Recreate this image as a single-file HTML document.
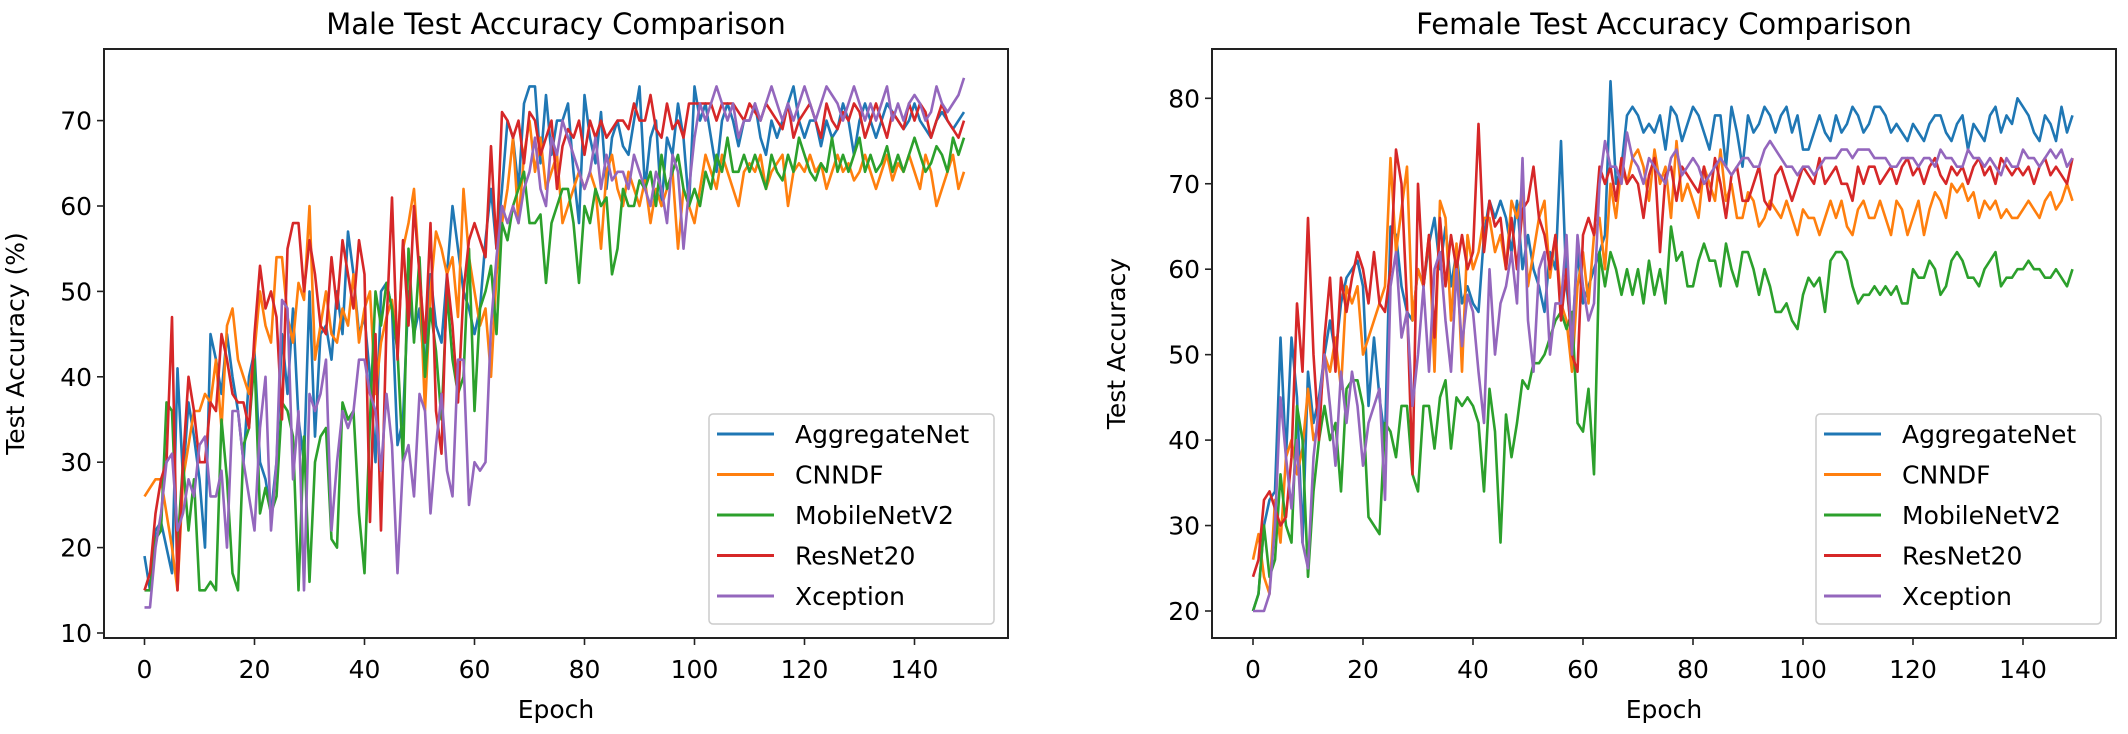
<!DOCTYPE html>
<html><head><meta charset="utf-8"><style>
html,body{margin:0;padding:0;background:#fff}
svg{display:block;font-family:"DejaVu Sans","Liberation Sans",sans-serif}
</style></head><body>
<svg id="fig" width="2128" height="734" viewBox="0 0 2128 734" xmlns="http://www.w3.org/2000/svg"></svg>
<script>
const epochs = 150;
const seriesNames = ["AggregateNet","CNNDF","MobileNetV2","ResNet20","Xception"];
const colors = ["#1f77b4","#ff7f0e","#2ca02c","#d62728","#9467bd"];
const maleXTicks = [0,20,40,60,80,100,120,140];
const maleYTicks = [10,20,30,40,50,60,70];
const femaleXTicks = [0,20,40,60,80,100,120,140];
const femaleYTicks = [20,30,40,50,60,70,80];

const maleAgg = [19,15,22,23,20,17,41,28,37,33, 28,20,45,42,38,45,40,36,30,40, 43,30,28,24,30,45,38,48,35,30, 50,33,45,46,42,50,45,57,52,45, 47,40,30,50,51,48,32,35,50,45, 48,40,52,46,44,52,60,55,50,48, 45,48,56,62,55,62,70,68,62,72, 74,74,65,73,66,70,70,72,64,58, 73,68,65,71,62,68,70,67,66,70, 74,62,68,70,60,68,66,72,68,60, 74,70,72,68,64,70,72,70,67,70, 70,72,68,66,70,68,70,72,74,70, 68,70,70,67,70,68,69,72,70,66, 70,72,70,68,70,72,71,70,69,70, 72,70,69,68,70,71,70,69,70,71];
const maleCnndf = [26,27,28,28,24,20,15,28,32,36, 36,38,37,42,34,46,48,42,40,38, 43,50,46,44,54,54,47,44,51,49, 60,42,46,50,45,44,48,46,52,44, 48,50,38,44,47,49,43,55,58,62, 52,36,50,57,55,52,54,47,62,54, 50,46,48,40,52,58,62,68,58,66, 70,64,68,62,64,66,58,60,62,64, 62,64,62,55,64,66,62,60,64,62, 60,63,58,62,60,62,64,55,62,60, 58,62,66,64,62,66,64,62,60,64, 65,64,66,62,64,65,66,60,64,65, 64,66,64,65,62,64,66,64,65,63, 64,66,64,62,64,66,63,65,64,66, 64,62,66,64,60,62,64,66,62,64];
const maleMobile = [15,15,21,22,37,36,20,30,22,28, 15,15,16,15,35,28,17,15,32,34, 42,24,27,24,26,37,36,33,15,33, 16,30,33,34,21,20,37,35,36,24, 17,35,50,46,51,48,43,30,55,44, 54,40,48,43,35,50,42,38,40,55, 36,48,50,53,45,58,56,60,62,64, 58,58,59,51,58,60,62,62,58,51, 60,58,62,60,61,52,55,62,60,60, 63,62,64,60,66,62,64,66,62,60, 62,60,64,62,66,64,68,64,64,66, 64,66,64,62,66,64,63,66,64,68, 66,64,63,65,64,68,64,66,64,66, 68,64,66,64,65,67,64,66,64,66, 68,66,64,65,67,66,64,68,66,68];
const maleResnet = [15,17,24,28,30,47,15,30,40,36, 30,30,37,36,45,42,38,37,37,34, 45,53,48,50,47,35,55,58,58,50, 56,52,46,45,54,48,56,52,48,56, 52,23,45,22,46,61,42,56,46,60, 52,44,58,36,31,52,46,37,50,56, 58,56,54,67,55,71,70,68,70,65, 71,70,66,68,70,62,67,69,68,70, 66,70,68,70,68,69,70,70,69,72, 70,70,73,69,68,72,69,70,68,72, 72,72,72,72,70,72,72,72,71,70, 72,71,70,72,71,70,69,72,68,70, 71,72,70,68,72,70,69,71,70,72, 71,68,70,72,70,68,71,70,69,72, 70,72,71,68,70,72,70,69,68,70];
const maleXception = [13,13,20,24,30,31,22,24,28,26, 32,33,26,26,29,20,36,36,30,26, 22,34,40,22,30,49,48,28,36,15, 38,36,38,42,22,30,36,34,36,42, 42,38,36,29,38,32,17,30,32,26, 38,36,24,32,38,29,26,42,42,25, 30,29,30,46,54,60,58,60,58,62, 64,68,62,60,68,66,70,68,66,64, 62,64,68,62,66,63,64,64,62,66, 64,62,60,64,62,58,66,64,55,62, 68,72,70,72,74,72,70,72,68,70, 70,72,70,72,74,72,70,72,70,72, 74,72,70,72,74,73,72,70,72,74, 72,70,72,70,72,74,70,72,70,72, 73,72,70,71,74,72,71,72,73,75];

const femAgg = [20,22,30,33,34,52,38,52,45,28, 48,42,45,50,54,50,56,59,60,61, 58,44,52,45,40,65,64,58,55,54, 60,58,63,66,60,65,58,62,56,58, 56,55,64,68,66,68,66,62,68,60, 64,60,58,55,62,60,75,58,52,62, 56,58,60,62,64,82,70,72,78,79, 78,76,77,76,78,74,79,78,75,77, 79,78,76,74,78,78,72,79,76,72, 78,76,77,79,78,76,78,79,76,78, 74,74,76,78,76,75,78,76,77,79, 78,76,77,79,79,78,76,77,76,75, 77,76,75,77,78,78,76,75,77,78, 74,77,76,75,78,79,76,78,77,80, 79,78,76,75,78,77,75,79,76,78];
const femCnndf = [26,29,24,22,33,28,38,40,36,39, 46,40,42,50,48,52,46,58,56,58, 50,52,54,56,58,73,62,67,72,54, 60,58,64,48,68,66,54,63,48,64, 60,62,66,66,62,64,60,68,66,69, 58,62,66,68,59,64,56,54,48,58, 62,56,64,66,60,70,66,72,70,73, 74,72,68,74,70,72,66,75,68,70, 68,66,72,70,68,74,68,70,66,66, 69,68,65,66,68,67,66,68,66,64, 67,66,66,64,66,68,66,68,65,64, 67,68,66,66,68,66,64,68,67,64, 66,68,64,67,69,68,66,70,69,70, 68,69,66,68,67,68,66,67,66,66, 67,68,67,66,68,69,67,68,70,68];
const femMobile = [20,22,30,24,26,36,30,28,44,40, 24,34,40,44,40,42,34,46,47,47, 44,31,30,29,42,41,38,44,44,36, 34,44,44,39,45,47,39,45,44,45, 44,42,34,46,41,28,43,38,42,47, 46,49,49,50,52,54,55,53,55,42, 41,46,36,62,58,62,60,57,60,57, 60,56,61,57,60,56,65,61,62,58, 58,61,63,61,61,58,63,60,58,62, 62,60,57,60,58,55,55,56,54,53, 57,59,58,59,55,61,62,62,61,58, 56,57,57,58,57,58,57,58,56,56, 60,59,59,61,60,57,58,61,62,61, 59,59,58,60,61,62,58,59,59,60, 60,61,60,60,59,59,60,59,58,60];
const femResnet = [24,26,33,34,32,30,31,38,56,48, 66,50,40,52,59,48,59,55,59,62, 60,56,62,56,55,60,74,70,56,36, 70,58,64,52,66,58,64,60,64,60, 62,77,62,68,65,66,60,66,60,67, 68,72,66,64,60,64,54,60,50,48, 64,66,64,72,70,72,68,73,70,71, 70,66,71,73,62,71,72,68,72,71, 70,69,72,68,73,70,66,71,72,68, 68,70,72,68,67,71,72,70,68,70, 72,71,70,73,70,71,72,70,70,68, 72,70,72,72,70,71,72,70,72,73, 71,72,70,72,73,71,70,72,71,72, 70,72,73,71,72,70,73,72,71,72, 71,72,70,72,73,71,72,71,70,73];
const femXception = [20,20,20,22,30,45,38,32,40,28, 25,38,44,50,44,37,48,42,48,44, 37,42,44,46,33,58,62,52,55,44, 50,58,48,60,62,54,48,60,51,57, 55,48,42,60,50,56,58,62,56,73, 54,48,60,62,50,56,56,64,50,64, 58,54,56,70,75,72,72,70,76,73, 72,70,73,72,71,70,73,74,71,72, 73,72,70,71,72,73,72,71,72,73, 73,72,72,74,75,74,73,72,72,71, 72,72,71,72,73,73,73,74,74,73, 74,74,74,73,73,73,72,72,73,73, 73,72,73,73,72,74,73,73,72,72, 74,73,73,72,73,72,71,73,72,72, 74,73,73,72,73,74,73,74,72,73];

const NS = "http://www.w3.org/2000/svg";
const svg = document.getElementById("fig");
function mk(tag, attrs, parent){const e=document.createElementNS(NS,tag);for(const k in attrs)e.setAttribute(k,attrs[k]);(parent||svg).appendChild(e);return e;}

function drawPanel(cfg){
  const g = mk("g",{});
  
  
  const xS = v => cfg.x0 + v*cfg.xStep;
  const yS = v => cfg.yRef - (v-cfg.yRefVal)*cfg.yPer;
  // title
  const t = mk("text",{x:(cfg.left+cfg.right)/2,y:34,"text-anchor":"middle","font-size":"29"},g);
  t.textContent = cfg.title;
  
  
  // series
  const seriesData = cfg.series;
  seriesData.forEach((arr,i)=>{
    let d="";
    arr.forEach((v,j)=>{d+=(j?"L":"M")+xS(j).toFixed(1)+" "+yS(v).toFixed(1);});
    const p = mk("path",{d:d,fill:"none",stroke:colors[i],"stroke-width":"2.6","stroke-linejoin":"round"},g);
    
    
  });
  // axes frame
  const fr = mk("rect",{x:cfg.left,y:cfg.top,width:cfg.right-cfg.left,height:cfg.bottom-cfg.top,fill:"none",stroke:"#222","stroke-width":"2"},g);
  
  
  // x ticks
  cfg.xTicks.forEach(v=>{
    const x=xS(v);
    const tk = mk("line",{x1:x,x2:x,y1:cfg.bottom,y2:cfg.bottom+7,stroke:"#222","stroke-width":"1.6"},g);
    
    
    const l = mk("text",{x:x,y:cfg.bottom+40,"text-anchor":"middle","font-size":"25"},g);
    l.textContent=v;
    
    
  });
  cfg.yTicks.forEach(v=>{
    const y=yS(v);
    const tk = mk("line",{x1:cfg.left-7,x2:cfg.left,y1:y,y2:y,stroke:"#222","stroke-width":"1.6"},g);
    
    
    const l = mk("text",{x:cfg.left-12,y:y+9,"text-anchor":"end","font-size":"25"},g);
    l.textContent=v;
    
    
  });
  const xl = mk("text",{x:(cfg.left+cfg.right)/2,y:718,"text-anchor":"middle","font-size":"25"},g);
  xl.textContent="Epoch";
  
  
  const yl = mk("text",{x:0,y:0,"text-anchor":"middle","font-size":"25",transform:`translate(${cfg.ylx},${(cfg.top+cfg.bottom)/2}) rotate(-90)`},g);
  yl.textContent=cfg.ylabel;
  
  
  // legend
  const lg = mk("g",{},g);
  
  
  mk("rect",{x:cfg.legX,y:414,width:285,height:210,rx:4,fill:"#fff","fill-opacity":"0.85",stroke:"#ccc","stroke-width":"1.5"},lg);
  seriesNames.forEach((n,i)=>{
    const yy = 434 + i*40.5;
    const e = mk("g",{},lg);
    
    
    mk("line",{x1:cfg.legX+8,x2:cfg.legX+65,y1:yy,y2:yy,stroke:colors[i],"stroke-width":"3"},e);
    const tx = mk("text",{x:cfg.legX+86,y:yy+9,"font-size":"25"},e);
    tx.textContent=n;
  });
}

drawPanel({name:"male-chart",title:"Male Test Accuracy Comparison",ylabel:"Test Accuracy (%)",
  left:104,right:1008,top:49,bottom:638,x0:144.5,xStep:5.5,yRef:633,yRefVal:10,yPer:8.54,
  xTicks:maleXTicks,yTicks:maleYTicks,ylx:24,legX:709,
  series:[maleAgg,maleCnndf,maleMobile,maleResnet,maleXception]});
drawPanel({name:"female-chart",title:"Female Test Accuracy Comparison",ylabel:"Test Accuracy",
  left:1212,right:2116,top:49,bottom:638,x0:1253,xStep:5.5,yRef:611,yRefVal:20,yPer:8.545,
  xTicks:femaleXTicks,yTicks:femaleYTicks,ylx:1125,legX:1816,
  series:[femAgg,femCnndf,femMobile,femResnet,femXception]});
</script>
</body></html>
